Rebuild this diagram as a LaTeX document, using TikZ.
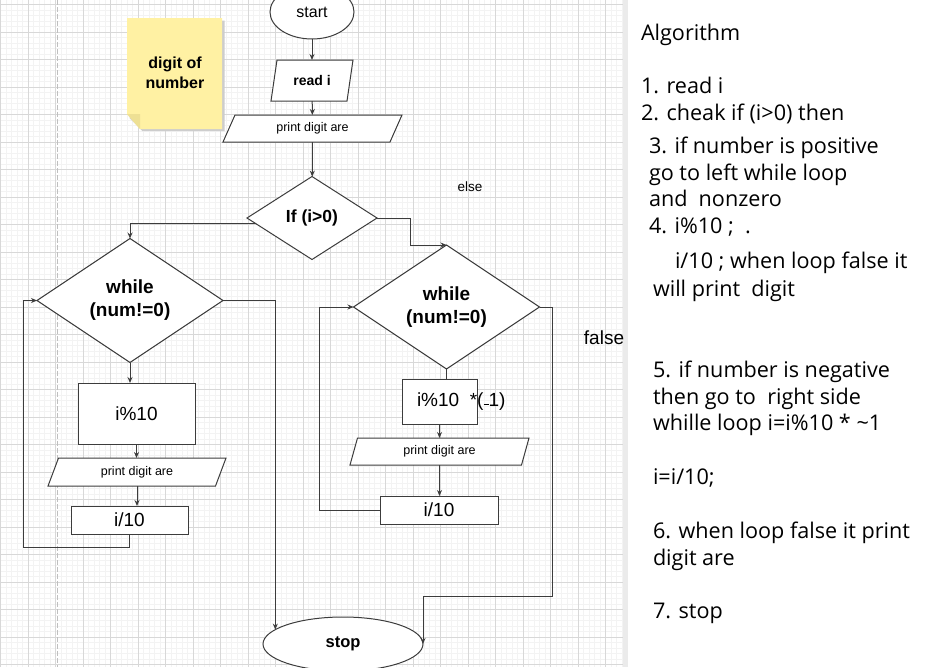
\documentclass[tikz,border=0pt]{standalone}
\usepackage{fontspec}
\setmainfont{Liberation Sans}
\newfontfamily\algfont{Open Sans}
\usetikzlibrary{shapes.geometric,arrows.meta,calc}
\definecolor{gridmajor}{RGB}{216,216,216}
\definecolor{gridminor}{RGB}{243,243,243}
\definecolor{linec}{RGB}{60,60,60}
\definecolor{notefill}{RGB}{255,241,163}
\definecolor{notefold}{RGB}{238,224,148}
\definecolor{notesh}{RGB}{205,205,205}
\pgfdeclarelayer{gridlayer}
\pgfdeclarelayer{shapelayer}
\pgfsetlayers{gridlayer,shapelayer,main}
\newcommand\pgramdraw[2]{\begin{pgfonlayer}{shapelayer}\draw[draw=linec, line width=1pt, fill=white] ([xshift=#2pt]#1.north west) -- (#1.north east) -- ([xshift=-#2pt]#1.south east) -- (#1.south west) -- cycle;\end{pgfonlayer}}
\begin{document}
\begin{tikzpicture}[x=1pt,y=-1pt,
  every node/.style={inner sep=0pt, outer sep=0pt, text=black},
  shp/.style={draw=linec, line width=1pt, fill=white},
  para/.style={rectangle},
  arr/.style={draw=linec, line width=1pt, -{Stealth[length=6pt,width=5pt]}},
  ln/.style={draw=linec, line width=1pt},
  bigb/.style={font=\bfseries\fontsize{19}{23}\selectfont},
  bigr/.style={font=\fontsize{19}{23}\selectfont},
  smallr/.style={font=\fontsize{12.5}{15}\selectfont},
  alg/.style={font=\algfont\fontsize{21.6}{27}\selectfont, anchor=base west}
]
\useasboundingbox (0,0) rectangle (926,667);
\clip (0,0) rectangle (926,667);
\begin{pgfonlayer}{gridlayer}
\fill[white] (0,0) rectangle (926,667);
\begin{scope}
\clip (0,0) rectangle (623,667);
\foreach \x in {0.8,6.3,...,623} \draw[gridminor, line width=1pt] (\x,0) -- (\x,667);
\foreach \y in {-0.9,4.6,...,668} \draw[gridminor, line width=1pt] (0,\y) -- (623,\y);
\foreach \x in {0.8,28.3,...,623} \draw[gridmajor, line width=1pt] (\x,0) -- (\x,667);
\foreach \y in {4.6,32.1,...,668} \draw[gridmajor, line width=1pt] (0,\y) -- (623,\y);
\end{scope}
\fill[black!8] (623,0) rectangle (628,667);
\draw[black!25, line width=1.5pt, dash pattern=on 5pt off 2pt] (57.7,0) -- (57.7,667);
% sticky note
\fill[notesh] (129.5,20.5) -- (224.5,20.5) -- (224.5,131) -- (142.5,131) -- (129.5,118) -- cycle;
\fill[notefill] (127,18) -- (222,18) -- (222,129) -- (140,129) -- (127,114) -- cycle;
\fill[notefold] (127,114) -- (140,114) -- (140,129) -- cycle;
\end{pgfonlayer}
\node[font=\bfseries\fontsize{16}{20}\selectfont, align=center] (note) at (175,73) {digit of\\number};
% flowchart nodes
\node[shp, ellipse, minimum width=84, minimum height=54, font=\fontsize{16}{19}\selectfont] (start) at (312,12) {start};
\node[para, minimum width=82, minimum height=41, font=\bfseries\fontsize{14}{17}\selectfont] (read) at (312,80.5) {read i};
\pgramdraw{read}{6}
\node[para, minimum width=179, minimum height=27, smallr] (print1) at (312.5,128.5) {print digit are};
\pgramdraw{print1}{12}
\node[shp, diamond, minimum width=130, minimum height=83, font=\bfseries\fontsize{17.5}{21}\selectfont] (if) at (312,218) {If (i>0)};
% left branch
\node[shp, diamond, minimum width=186, minimum height=124, align=center, bigb] (w1) at (130,300.5) {while\\(num!=0)};
\node[shp, rectangle, minimum width=117, minimum height=61, bigr] (r1) at (136.5,413.5) {i\%10};
\node[para, minimum width=178, minimum height=28, smallr] (p1) at (137,472) {print digit are};
\pgramdraw{p1}{10.5}
\node[shp, rectangle, minimum width=117, minimum height=28, bigr] (r2) at (129.5,520) {i/10};
% right branch
\node[shp, diamond, minimum width=186, minimum height=124, align=center, bigb] (w2) at (446.5,307) {while\\(num!=0)};
\node[shp, rectangle, minimum width=75, minimum height=45, bigr] (r3) at (439.5,401.5) {\makebox[75pt][l]{\hspace{15pt}i\%10\ \ *(\rule[1.2pt]{5pt}{1pt}1)}};
\node[para, minimum width=179, minimum height=27, smallr] (p2) at (439.5,451.5) {print digit are};
\pgramdraw{p2}{7.5}
\node[shp, rectangle, minimum width=118, minimum height=28, bigr] (r4) at (439,510) {i/10};
% stop
\node[shp, ellipse, minimum width=160, minimum height=54, font=\bfseries\fontsize{16.5}{19}\selectfont] (stop) at (343,644) {\raisebox{-2pt}{stop}};
% labels
\node[font=\fontsize{13.5}{16}\selectfont] (elselbl) at (470,187) {else};
\node[bigr] (falselbl) at (604,338) {false};
% coordinates
\coordinate (c2) at (410,245);
\coordinate (c3) at (23,547);
\coordinate (c5) at (319,307);
\coordinate (c6) at (552.5,596);
% connectors
\draw[arr] (start) -- (read);
\draw[arr] (read) -- (print1);
\draw[arr] (print1) -- (if);
\draw[arr] (if.186) -| (w1.north);
\draw[arr] (if.east) -| (c2) -- (w2.north);
\draw[arr] (w1.south) -- (w1.south |- r1.north);
\draw[arr] (r1.south) -- (r1.south |- p1.north);
\draw[arr] (p1.south) -- (p1.south |- r2.north);
\draw[arr] (r2.south) |- (c3) |- (w1.west);
\draw[arr] (w1.east) -| (stop.168);
\draw[ln] (w2.south) -- (w2.south |- r3.north);
\draw[arr] (r3.south) -- (r3.south |- p2.north);
\draw[arr] (p2.south) -- (p2.south |- r4.north);
\draw[arr] (r4.west) -| (c5) -- (w2.west);
\draw[arr] (w2.east) -| (c6) -| (stop.east);
% algorithm text
\node[alg] (a1) at (641,40) {Algorithm};
\node[alg] (a2) at (641,93.5) {1. read i};
\node[alg] (a3) at (641,120.5) {2. cheak if (i>0) then};
\node[alg] (a4) at (649,153.3) {3. if number is positive};
\node[alg] (a5) at (649,180) {go to left while loop};
\node[alg] (a6) at (649,206.7) {and\ \ nonzero};
\node[alg] (a7) at (649,233.3) {4. i\%10 ;\ \ .};
\node[alg] (a8) at (675,268.3) {i/10 ; when loop false it};
\node[alg] (a9) at (653,296) {will print\ \ digit};
\node[alg] (a10) at (653,377.3) {5. if number is negative};
\node[alg] (a11) at (653,404) {then go to\ \ right side};
\node[alg] (a12) at (653,430.7) {whille loop i=i\%10 * \textasciitilde1};
\node[alg] (a13) at (653,484) {i=i/10;};
\node[alg] (a14) at (653,538.3) {6. when loop false it print};
\node[alg] (a15) at (653,565) {digit are};
\node[alg] (a16) at (653,618.3) {7. stop};
\end{tikzpicture}
\end{document}
